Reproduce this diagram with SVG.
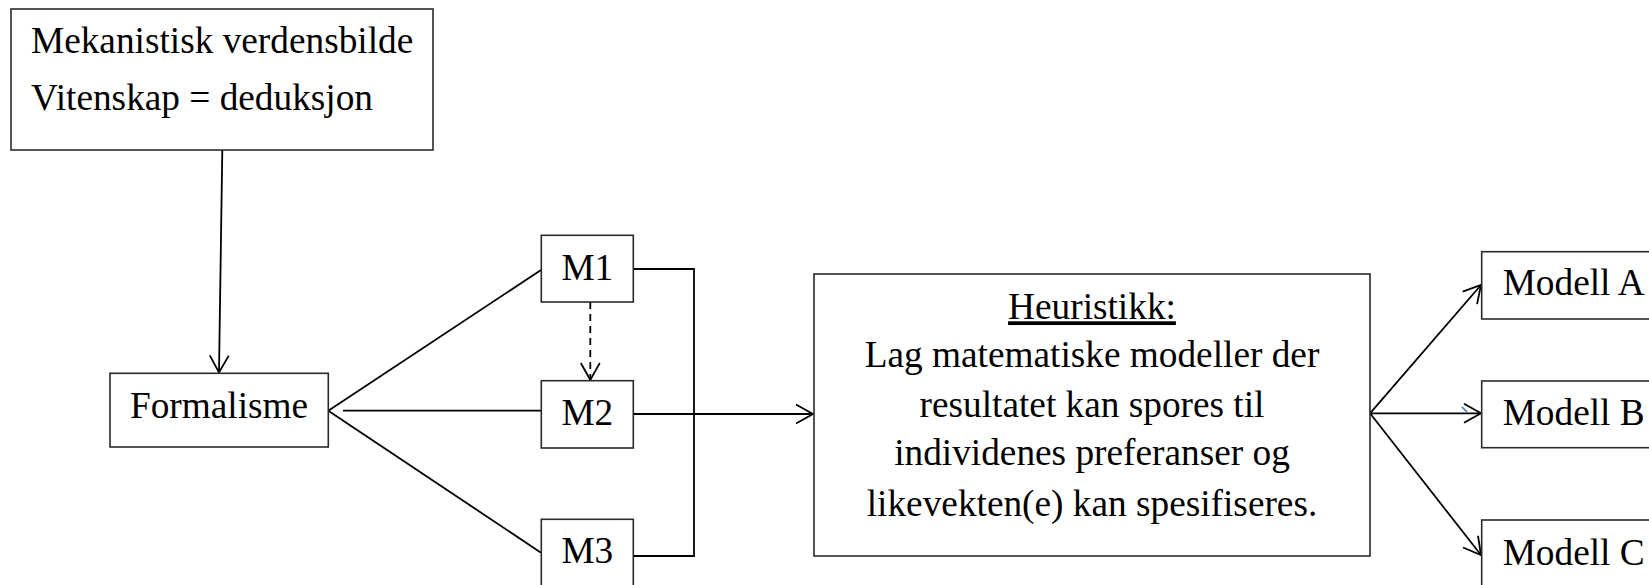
<svg xmlns="http://www.w3.org/2000/svg" width="1649" height="585" viewBox="0 0 1649 585">
  <style>
    .box { fill: #ffffff; stroke: #2a2a2a; stroke-width: 1.6; }
    .lbl { font-family: "Liberation Serif", "Times New Roman", serif; font-size: 37.3px; fill: #000; }
    .mid { text-anchor: middle; }
    .con { fill: none; stroke: #000; stroke-width: 1.8; }
    .dash { stroke-dasharray: 7 5; }
  </style>
  <defs>
    <marker id="arr" markerUnits="userSpaceOnUse" viewBox="-19 -11 21 22" markerWidth="21" markerHeight="22" refX="0" refY="0" orient="auto">
      <path d="M-17,-9.5 L0,0 L-17,9.5" fill="none" stroke="#000" stroke-width="1.8"/>
    </marker>
  </defs>
  <rect width="1649" height="585" fill="#ffffff"/>

  <g id="connectors">
    <line class="con" x1="222.3" y1="150" x2="219" y2="372.5" marker-end="url(#arr)"/>
    <line class="con" x1="328.3" y1="410.7" x2="541" y2="270"/>
    <line class="con" x1="343" y1="410.7" x2="541" y2="410.7"/>
    <line class="con" x1="328.3" y1="410.7" x2="541" y2="552.7"/>
    <line class="con dash" x1="590.3" y1="302" x2="590.3" y2="380" marker-end="url(#arr)"/>
    <polyline class="con" points="633,269 694,269 694,556 633,556"/>
    <line class="con" x1="633" y1="414" x2="813" y2="414" marker-end="url(#arr)"/>
    <line class="con" x1="1370" y1="413.3" x2="1481" y2="285" marker-end="url(#arr)"/>
    <line class="con" x1="1370" y1="413.3" x2="1481" y2="413.3" marker-end="url(#arr)"/>
    <line class="con" x1="1370" y1="413.3" x2="1481" y2="555" marker-end="url(#arr)"/>
    <line x1="1462" y1="407" x2="1467" y2="412" stroke="#4472C4" stroke-width="1.6"/>
  </g>

  <g id="node-mekanistisk">
    <rect class="box" x="11" y="9" width="422" height="141"/>
    <text class="lbl" x="31" y="53.3">Mekanistisk verdensbilde</text>
    <text class="lbl" x="31" y="110">Vitenskap = deduksjon</text>
  </g>

  <g id="node-formalisme">
    <rect class="box" x="110" y="373.3" width="218.3" height="73.7"/>
    <text class="lbl mid" x="219" y="418.3">Formalisme</text>
  </g>

  <g id="node-m1">
    <rect class="box" x="541.3" y="235.3" width="92" height="66.7"/>
    <text class="lbl mid" x="587.3" y="280">M1</text>
  </g>

  <g id="node-m2">
    <rect class="box" x="541.3" y="380.7" width="92" height="67.3"/>
    <text class="lbl mid" x="587.3" y="424.7">M2</text>
  </g>

  <g id="node-m3">
    <rect class="box" x="541.3" y="519.3" width="92" height="90"/>
    <text class="lbl mid" x="587.3" y="563.3">M3</text>
  </g>

  <g id="node-heuristikk">
    <rect class="box" x="814" y="274" width="556" height="282"/>
    <text class="lbl mid" x="1092" y="319.3" text-decoration="underline">Heuristikk:</text>
    <text class="lbl mid" x="1092" y="367.3">Lag matematiske modeller der</text>
    <text class="lbl mid" x="1092" y="416.7">resultatet kan spores til</text>
    <text class="lbl mid" x="1092" y="465">individenes preferanser og</text>
    <text class="lbl mid" x="1092" y="516">likevekten(e) kan spesifiseres.</text>
  </g>

  <g id="node-modell-a">
    <rect class="box" x="1481.7" y="251.7" width="190" height="67.3"/>
    <text class="lbl" x="1502.7" y="295">Modell A</text>
  </g>

  <g id="node-modell-b">
    <rect class="box" x="1481.7" y="381" width="190" height="66.7"/>
    <text class="lbl" x="1502.7" y="425">Modell B</text>
  </g>

  <g id="node-modell-c">
    <rect class="box" x="1481.7" y="520" width="190" height="90"/>
    <text class="lbl" x="1502.7" y="565">Modell C</text>
  </g>
</svg>
